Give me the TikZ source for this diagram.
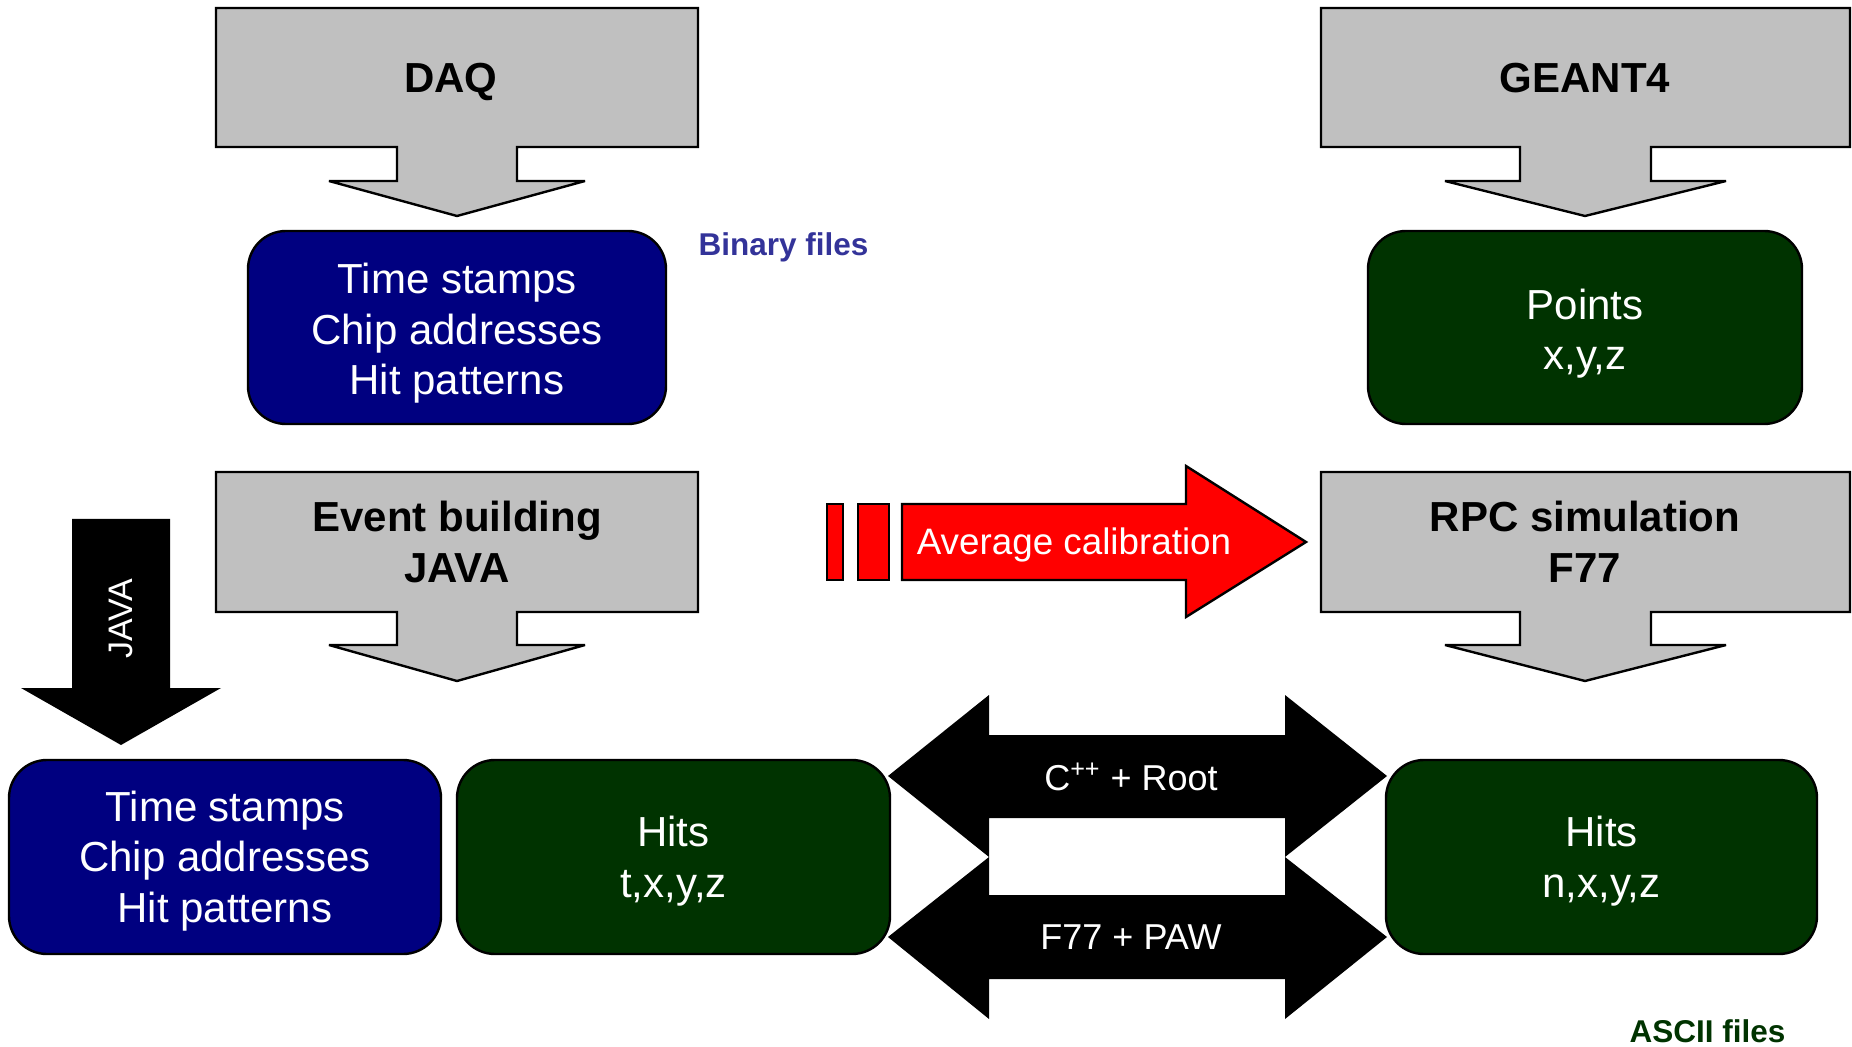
\documentclass[tikz,border=0pt]{standalone}
\usepackage{fontspec}
\setmainfont{Liberation Sans}

\definecolor{callgray}{HTML}{C0C0C0}
\definecolor{rawblue}{HTML}{000080}
\definecolor{hitgreen}{HTML}{003300}
\definecolor{filesblue}{HTML}{333399}

\tikzset{
  callout/.style={fill=callgray, draw=black, line width=1.2pt, line join=miter, miter limit=4},
  databox/.style={draw=black, line width=1.2pt, rounded corners=19pt, inner sep=0pt,
    minimum height=97pt, minimum width=216pt},
  boxtext/.style={text=white, align=center, inner sep=0pt, font=\fontsize{21}{25.25}\selectfont},
  title/.style={font=\bfseries\fontsize{21}{25.5}\selectfont, align=center},
  filelabel/.style={font=\bfseries\fontsize{15.75}{18}\selectfont, anchor=base},
  whitelabel/.style={text=white, font=\fontsize{18}{21}\selectfont},
}

\begin{document}
\begin{tikzpicture}[x=0.5pt, y=-0.5pt]
\useasboundingbox (0,0) rectangle (1852,1047);

% data boxes
\node[databox, fill=rawblue, minimum width=209pt, minimum height=96.5pt] (rawtop) at (457,327.5) {};
\node[databox, fill=hitgreen, minimum width=217pt, minimum height=96.5pt] (points) at (1585,327.5) {};
\node[databox, fill=rawblue] (rawbot) at (225,857) {};
\node[databox, fill=hitgreen, minimum width=216.5pt] (hitsjava) at (673.5,857) {};
\node[databox, fill=hitgreen, minimum width=215.5pt] (hitsrpc) at (1601.5,857) {};

\node[boxtext] (rawtoptext) at ([yshift=-3pt]rawtop.center) {Time stamps\\Chip addresses\\Hit patterns};
\node[boxtext] (pointstext) at ([yshift=-3pt]points.center) {Points\\x,y,z};
\node[boxtext] (rawbottext) at ([yshift=-2pt]rawbot.center) {Time stamps\\Chip addresses\\Hit patterns};
\node[boxtext] (hitsjavatext) at ([yshift=-2pt]hitsjava.center) {Hits\\t,x,y,z};
\node[boxtext] (hitsrpctext) at ([yshift=-2pt]hitsrpc.center) {Hits\\n,x,y,z};

% gray callouts
\filldraw[callout] (216,8) -- (698,8) -- (698,147) -- (517,147) -- (517,181) -- (585,181) -- (457,216) -- (329,181) -- (397,181) -- (397,147) -- (216,147) -- cycle;
\filldraw[callout] (1321,8) -- (1850,8) -- (1850,147) -- (1651,147) -- (1651,181) -- (1726,181) -- (1585,216) -- (1445,181) -- (1520,181) -- (1520,147) -- (1321,147) -- cycle;
\filldraw[callout] (216,472) -- (698,472) -- (698,612) -- (517,612) -- (517,645) -- (585,645) -- (457,681) -- (329,645) -- (397,645) -- (397,612) -- (216,612) -- cycle;
\filldraw[callout] (1321,472) -- (1850,472) -- (1850,612) -- (1651,612) -- (1651,645) -- (1726,645) -- (1585,681) -- (1445,645) -- (1520,645) -- (1520,612) -- (1321,612) -- cycle;

\node[title, anchor=base] (daq) at (451,93) {DAQ};
\node[title, anchor=base] (geant) at (1585,93) {GEANT4};
\node[title] (evtbuild) at (457,542) {Event building\\JAVA};
\node[title] (rpcsim) at (1585,542) {RPC simulation\\F77};

% red calibration arrow
\filldraw[fill=red, draw=black, line width=1.2pt] (827,504) rectangle (843,580);
\filldraw[fill=red, draw=black, line width=1.2pt] (858,504) rectangle (889,580);
\filldraw[fill=red, draw=black, line width=1.2pt, line join=miter] (902,504) -- (1186,504) -- (1186,466) -- (1306,542) -- (1186,617) -- (1186,580) -- (902,580) -- cycle;
\node[whitelabel, font=\fontsize{18.4}{22}\selectfont, anchor=base] (avgcal) at (1074,555) {Average calibration};

% black arrows
\fill (72,519) -- (170,519) -- (170,688) -- (221,688) -- (121,745) -- (21,688) -- (72,688) -- cycle;
\node[whitelabel, font=\fontsize{17}{20}\selectfont, rotate=90] (javalbl) at (121,619) {JAVA};

\fill (888,776) -- (989,695) -- (989,735) -- (1285,735) -- (1285,695) -- (1387,776) -- (1285,857) -- (1285,818) -- (989,818) -- (989,857) -- cycle;
\fill (888,937) -- (989,857) -- (989,895) -- (1285,895) -- (1285,857) -- (1387,937) -- (1285,1019) -- (1285,979) -- (989,979) -- (989,1019) -- cycle;
\node[whitelabel] (cpproot) at (1131,777) {C\textsuperscript{++} + Root};
\node[whitelabel] (fpaw) at (1131,937) {F77 + PAW};

% file labels
\node[filelabel, text=filesblue] (binary) at (783.5,256) {Binary files};
\node[filelabel, text=hitgreen] (ascii) at (1707.5,1042) {ASCII files};
\end{tikzpicture}
\end{document}
